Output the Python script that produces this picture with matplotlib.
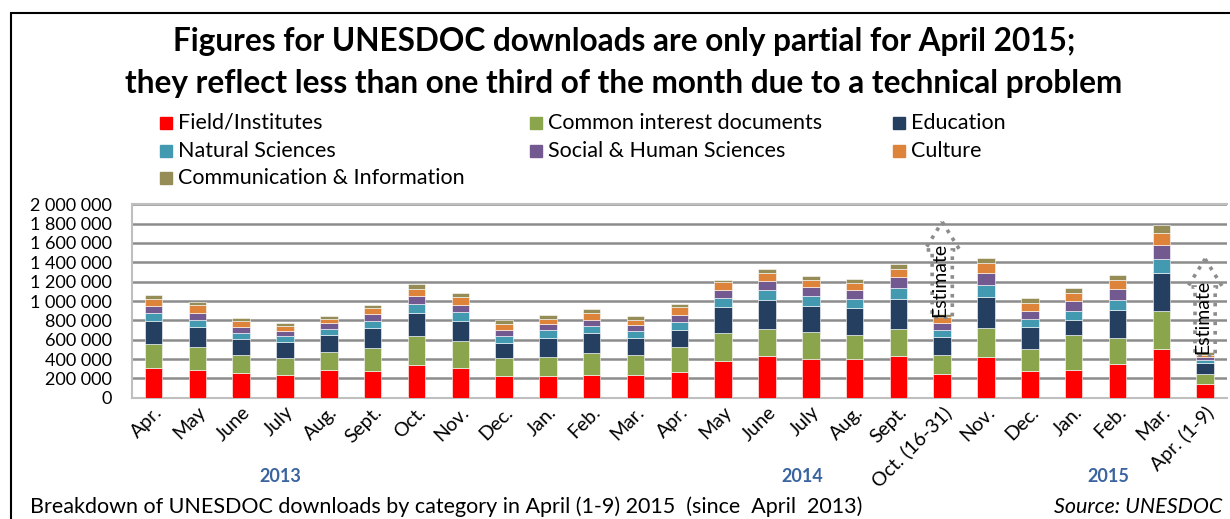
"""UNESDOC downloads by category, April 2013 - April 2015 (stacked bars)."""
import matplotlib
matplotlib.use("Agg")
import matplotlib.pyplot as plt
from matplotlib.patches import FancyArrow, Rectangle
from matplotlib.ticker import FuncFormatter
from matplotlib.transforms import blended_transform_factory

plt.rcParams["font.family"] = ["Lato", "DejaVu Sans"]

months = ["Apr.", "May", "June", "July", "Aug.", "Sept.", "Oct.", "Nov.", "Dec.",
          "Jan.", "Feb.", "Mar.", "Apr.", "May", "June", "July", "Aug.", "Sept.",
          "Oct. (16-31)", "Nov.", "Dec.", "Jan.", "Feb.", "Mar.", "Apr. (1-9)"]

categories = ["Field/Institutes", "Common interest documents", "Education",
              "Natural Sciences", "Social & Human Sciences", "Culture",
              "Communication & Information"]
colors = ["#FF0000", "#8AA54B", "#253F60", "#4299B0", "#725A90", "#DE843A", "#968C56"]

# cumulative tops (thousands), one list per category
field = [310, 290, 259, 238, 286, 279, 341, 310, 228, 228, 234, 234, 266, 383, 434,
         403, 400, 434, 248, 424, 279, 290, 352, 503, 145]
common = [552, 524, 438, 414, 476, 517, 638, 583, 410, 421, 459, 441, 528, 672, 714,
          679, 652, 710, 441, 724, 507, 645, 621, 900, 248]
education = [797, 731, 610, 579, 648, 724, 876, 797, 569, 621, 665, 621, 703, 941, 1007,
             952, 931, 1024, 631, 1045, 734, 807, 910, 1293, 362]
natural = [872, 803, 672, 638, 710, 797, 965, 883, 641, 697, 738, 690, 783, 1031, 1110,
           1052, 1024, 1134, 700, 1162, 817, 900, 1010, 1438, 390]
social = [952, 879, 734, 693, 769, 869, 1055, 962, 703, 759, 807, 755, 859, 1117, 1210,
          1141, 1117, 1248, 776, 1286, 900, 996, 1127, 1583, 424]
culture = [1017, 955, 793, 741, 817, 924, 1128, 1038, 765, 817, 872, 807, 934, 1196, 1286,
           1221, 1186, 1327, 831, 1390, 983, 1079, 1217, 1703, 445]
communication = [1059, 986, 828, 769, 848, 962, 1172, 1079, 800, 855, 914, 841, 969, 1217, 1331,
                 1262, 1231, 1383, 862, 1448, 1028, 1134, 1269, 1783, 469]

tops = [field, common, education, natural, social, culture, communication]

years = ["2013", "2014", "2015"]
year_pos = [2.9, 14.8, 21.8]

W, H = 1230, 519
fig = plt.figure(figsize=(W / 100, H / 100), dpi=100)
ax = fig.add_axes([131.7 / W, (H - 397.7) / H, (1227 - 131.7) / W, (397.7 - 204.3) / H])

x = list(range(len(months)))
prev = [0] * len(months)
for name, col, top in zip(categories, colors, tops):
    vals = [(t - p) * 1000 for t, p in zip(top, prev)]
    ax.bar(x, vals, bottom=[p * 1000 for p in prev], width=0.4, color=col,
           edgecolor="white", linewidth=0.4, label=name, zorder=3)
    prev = top

ax.set_xlim(-0.5, len(months) - 0.5)
ax.set_ylim(0, 2000000)
ax.set_yticks(range(0, 2000001, 200000))
ax.yaxis.set_major_formatter(FuncFormatter(lambda v, _: f"{int(v):,}".replace(",", " ")))
ax.grid(axis="y", color="#8C8C8C", linewidth=1.8, zorder=0)
ax.tick_params(axis="y", length=0, labelsize=13, pad=14)
ax.tick_params(axis="x", length=0, labelsize=14, pad=4)
ax.set_xticks(x)
ax.set_xticklabels(months, rotation=45, ha="right", rotation_mode="anchor")
for side in ["top", "right", "left", "bottom"]:
    ax.spines[side].set_color("#BFBFBF")
    ax.spines[side].set_linewidth(1.5)
ax.spines["right"].set_visible(False)

# dotted "Estimate" arrows over the partial months
for idx, tip, base in [(18, 1818000, 1528000), (24, 1435000, 1145000)]:
    start = tops[-1][idx] * 1000 - 30000
    ax.add_patch(FancyArrow(idx, start, 0, tip - start, width=0.46, head_width=0.8,
                            head_length=tip - base, length_includes_head=True,
                            fill=False, edgecolor="#8C8C8C", linestyle=(0, (1, 1.6)),
                            linewidth=2.6, zorder=4, clip_on=False))
    ax.text(idx - 0.05, (start + base) / 2 + 40000, "Estimate", rotation=90, ha="center",
            va="center", fontsize=14, zorder=5)

trans = blended_transform_factory(ax.transData, fig.transFigure)
for yr, pos in zip(years, year_pos):
    fig.text(pos, 1 - 476 / H, yr, transform=trans, ha="center", va="center",
             fontsize=13, fontweight="bold", color="#3A64A0")

fig.text(624 / W, 1 - 42 / H, "Figures for UNESDOC downloads are only partial for April 2015;",
         ha="center", va="center", fontsize=22.7, fontweight="bold")
fig.text(624 / W, 1 - 83 / H, "they reflect less than one third of the month due to a technical problem",
         ha="center", va="center", fontsize=22.7, fontweight="bold")

# legend laid out row by row, three columns
leg_x = [160, 530, 893]
leg_y = [123, 151, 178]
for i, (name, col) in enumerate(zip(categories, colors)):
    lx, ly = leg_x[i % 3], leg_y[i // 3]
    fig.add_artist(Rectangle((lx / W, 1 - (ly + 6) / H), 12 / W, 12 / H,
                             transform=fig.transFigure, color=col))
    fig.text((lx + 18) / W, 1 - ly / H, name, ha="left", va="center", fontsize=15.5)

fig.text(30 / W, 1 - 507 / H,
         "Breakdown of UNESDOC downloads by category in April (1-9) 2015  (since  April  2013)",
         ha="left", va="center", fontsize=15.5)
fig.text(1222 / W, 1 - 507 / H, "Source: UNESDOC", ha="right", va="center",
         fontsize=15.5, style="italic")

# outer frame (left and top edges visible)
fig.add_artist(Rectangle((10.5 / W, -0.1), 1.2, 1 - 12.5 / H + 0.1,
                         transform=fig.transFigure, fill=False,
                         edgecolor="black", linewidth=1.5))

fig.savefig("out.png", dpi=100)
